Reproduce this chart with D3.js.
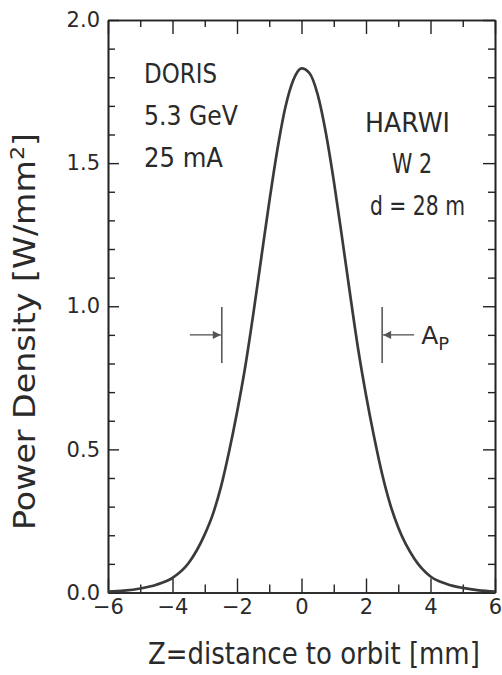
<html>
<head>
<meta charset="UTF-8">
<title>Power density profile</title>
<script src="https://cdn.jsdelivr.net/npm/d3@7"></script>
<style>
  body { margin: 0; background: #fff; }
  svg text { font-family: "DejaVu Sans", sans-serif; fill: #2a2a2a; }
  .axis path, .axis line { stroke: #222; }
</style>
</head>
<body>
<div id="chart"></div>
<script>
// distance to orbit (mm) and power density (W/mm^2)
var zValues = [-6, -5.5, -5, -4.5, -4, -3.5, -3, -2.75, -2.5, -2.25, -2, -1.75, -1.5, -1.25, -1, -0.75, -0.5, -0.25,
               0, 0.25, 0.5, 0.75, 1, 1.25, 1.5, 1.75, 2, 2.25, 2.5, 2.75, 3, 3.5, 4, 4.5, 5, 5.5, 6];
var powerValues = [0.003, 0.0065, 0.014, 0.027, 0.051, 0.103, 0.203, 0.273, 0.368, 0.49, 0.629, 0.785, 0.969, 1.167, 1.364, 1.546, 1.695, 1.791,
                   1.831, 1.814, 1.74, 1.609, 1.439, 1.246, 1.047, 0.855, 0.69, 0.544, 0.414, 0.308, 0.227, 0.118, 0.056, 0.03, 0.016, 0.0075, 0.0032];
var xMajor = [-6, -4, -2, 0, 2, 4, 6];
var xMinor = [-5, -3, -1, 1, 3, 5];
var yMajor = [0, 0.5, 1.0, 1.5, 2.0];
var yMinor = [0.1, 0.2, 0.3, 0.4, 0.6, 0.7, 0.8, 0.9, 1.1, 1.2, 1.3, 1.4, 1.6, 1.7, 1.8, 1.9];
var leftNotes = ["DORIS", "5.3 GeV", "25 mA"];
var rightNotes = ["HARWI", "W 2", "d = 28 m"];
var markerZ = [-2.47, 2.5];   // A_P markers
var markerP = 0.90;

var W = 502, H = 675;
var m = {left: 108, right: 7, top: 20, bottom: 82.5};

var svg = d3.select("#chart").append("svg")
    .attr("width", W).attr("height", H);

var x = d3.scaleLinear().domain([-6, 6]).range([m.left, W - m.right]);
var y = d3.scaleLinear().domain([0, 2]).range([H - m.bottom, m.top]);

//----- axes (ticks point inward)
function drawAxis(axis, cls, tr) {
    var g = svg.append("g").attr("class", "axis " + cls)
        .attr("transform", tr).call(axis);
    g.selectAll("line").attr("stroke-width", 1.4);
    g.select(".domain").attr("stroke-width", 1.6);
    g.selectAll("text").style("font-size", "21px").attr("fill", "#2a2a2a");
    return g;
}

drawAxis(d3.axisBottom(x).tickValues(xMajor).tickSizeInner(-14).tickSizeOuter(0).tickPadding(7)
    .tickFormat(d3.format("d")), "xb", "translate(0," + y(0) + ")");
drawAxis(d3.axisBottom(x).tickValues(xMinor).tickSizeInner(-8).tickSizeOuter(0).tickFormat(""), "xb2", "translate(0," + y(0) + ")");
drawAxis(d3.axisTop(x).tickValues(xMajor).tickSizeInner(-14).tickSizeOuter(0).tickFormat(""), "xt", "translate(0," + y(2) + ")");
drawAxis(d3.axisTop(x).tickValues(xMinor).tickSizeInner(-7).tickSizeOuter(0).tickFormat(""), "xt2", "translate(0," + y(2) + ")");

drawAxis(d3.axisLeft(y).tickValues(yMajor).tickSizeInner(-11).tickSizeOuter(0).tickPadding(8)
    .tickFormat(d3.format(".1f")), "yl", "translate(" + x(-6) + ",0)");
drawAxis(d3.axisLeft(y).tickValues(yMinor).tickSizeInner(-7).tickSizeOuter(0).tickFormat(""), "yl2", "translate(" + x(-6) + ",0)");
drawAxis(d3.axisRight(y).tickValues(yMajor).tickSizeInner(-12).tickSizeOuter(0).tickFormat(""), "yr", "translate(" + x(6) + ",0)");
drawAxis(d3.axisRight(y).tickValues(yMinor).tickSizeInner(-7).tickSizeOuter(0).tickFormat(""), "yr2", "translate(" + x(6) + ",0)");

//----- curve
var pts = zValues.map(function (z, i) { return [z, powerValues[i]]; });
svg.append("path")
    .datum(pts)
    .attr("fill", "none")
    .attr("stroke", "#3a3a3a")
    .attr("stroke-width", 2.7)
    .attr("d", d3.line()
        .x(function (d) { return x(d[0]); })
        .y(function (d) { return y(d[1]); })
        .curve(d3.curveMonotoneX));

//----- A_P markers
var defs = svg.append("defs");
defs.append("marker").attr("id", "head")
    .attr("viewBox", "0 0 10 10").attr("refX", 10).attr("refY", 5)
    .attr("markerWidth", 11).attr("markerHeight", 8).attr("markerUnits", "userSpaceOnUse")
    .attr("orient", "auto")
    .append("path").attr("d", "M0,0 L10,5 L0,10 Z").attr("fill", "#555");

svg.selectAll(".apbar").data(markerZ).enter().append("line")
    .attr("class", "apbar")
    .attr("x1", function (d) { return x(d); }).attr("x2", function (d) { return x(d); })
    .attr("y1", y(markerP) - 28).attr("y2", y(markerP) + 28)
    .attr("stroke", "#333").attr("stroke-width", 1.3);

svg.selectAll(".aparrow").data(markerZ).enter().append("line")
    .attr("class", "aparrow")
    .attr("x1", function (d) { return d < 0 ? x(d) - 32 : x(d) + 32; })
    .attr("x2", function (d) { return d < 0 ? x(d) - 1 : x(d) + 1; })
    .attr("y1", y(markerP)).attr("y2", y(markerP))
    .attr("stroke", "#444").attr("stroke-width", 1.2)
    .attr("marker-end", "url(#head)");

var ap = svg.append("text")
    .attr("x", x(markerZ[1]) + 39).attr("y", y(markerP) + 9)
    .style("font-size", "25px");
ap.append("tspan").text("A");
ap.append("tspan").attr("dy", 6).style("font-size", "18px").text("P");

//----- annotations (widths set to match the narrow lettering)
var leftLen = [73, 94, 79];
svg.selectAll(".lnote").data(leftNotes).enter().append("text")
    .attr("class", "lnote")
    .attr("x", 144)
    .attr("y", function (d, i) { return [83, 125, 167][i]; })
    .attr("textLength", function (d, i) { return leftLen[i]; })
    .attr("lengthAdjust", "spacingAndGlyphs")
    .style("font-size", "27px")
    .text(function (d) { return d; });

var rightX = [365, 392, 370], rightLen = [85, 40, 95];
svg.selectAll(".rnote").data(rightNotes).enter().append("text")
    .attr("class", "rnote")
    .attr("x", function (d, i) { return rightX[i]; })
    .attr("y", function (d, i) { return [132, 173, 215][i]; })
    .attr("textLength", function (d, i) { return rightLen[i]; })
    .attr("lengthAdjust", "spacingAndGlyphs")
    .style("font-size", "27px")
    .text(function (d) { return d; });

//----- axis titles (squeezed horizontally like the original lettering)
var xt = svg.append("g");
var xtText = xt.append("text")
    .style("font-size", "30px")
    .text("Z=distance to orbit [mm]");
var xs = 332 / xtText.node().getComputedTextLength();
xt.attr("transform", "translate(148,664) scale(" + xs + ",1)");

var yt = svg.append("text")
    .attr("transform", "translate(35,530) rotate(-90)")
    .attr("textLength", 397)
    .attr("lengthAdjust", "spacingAndGlyphs")
    .style("font-size", "30px");
yt.append("tspan").text("Power Density [W/mm");
yt.append("tspan").attr("dy", -11).style("font-size", "20px").text("2");
yt.append("tspan").attr("dy", 11).text("]");
</script>
</body>
</html>
